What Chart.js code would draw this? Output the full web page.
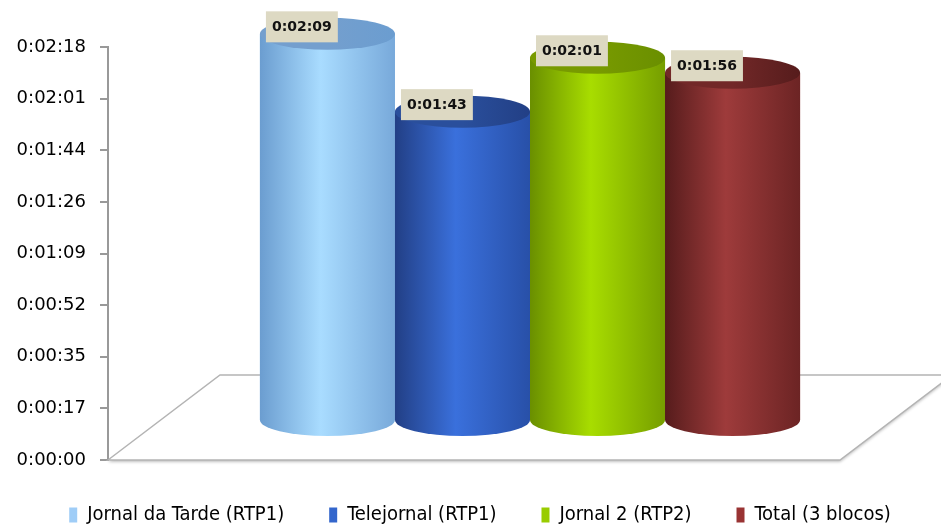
<!DOCTYPE html>
<html>
<head>
<meta charset="utf-8">
<script src="https://cdn.jsdelivr.net/npm/chart.js@4.4.1/dist/chart.umd.min.js"></script>
<style>
  html, body { margin: 0; padding: 0; background: #fff; overflow: hidden; }
  #wrap { width: 941px; height: 527px; overflow: hidden; }
</style>
</head>
<body>
<div id="wrap"><canvas id="chart" width="952" height="527"></canvas></div>
<script>
// duração média por bloco (segundos)
const SERIES = ["Jornal da Tarde (RTP1)", "Telejornal (RTP1)", "Jornal 2 (RTP2)", "Total (3 blocos)"];
const VALUES = [129, 103, 121, 116];
const Y_TICKS = [0, 17.25, 34.5, 51.75, 69, 86.25, 103.5, 120.75, 138];

const LEGEND_COLORS = ["#9fcdf7", "#3366cc", "#99cc00", "#993333"];
// [esquerda, centro, direita, topo]
const CYL_SHADES = [
  ["#6b9dd0", "#a9dcff", "#78a9da", "#749fce"],
  ["#223f85", "#3a70dc", "#2850a8", "#2a4f9c"],
  ["#6a8f00", "#a8dd00", "#769e00", "#789a00"],
  ["#561c1c", "#9e3b3b", "#6c2424", "#722828"],
];

function fmtTime(v) {
  const s = Math.round(v);
  const m = Math.floor(s / 60);
  const r = s % 60;
  return "0:" + String(m).padStart(2, "0") + ":" + String(r).padStart(2, "0");
}

// legenda com altura fixa, para a área do gráfico ir até y=460
const legendFit = {
  id: "legendFit",
  beforeInit(chart) {
    const lg = chart.legend;
    const orig = lg.fit;
    lg.fit = function () {
      orig.call(this);
      this.height = 67;
    };
  },
};

const floorPlugin = {
  id: "floor",
  beforeDatasetsDraw(chart) {
    const { ctx, chartArea } = chart;
    const y0 = chart.scales.y.getPixelForValue(0);
    const x0 = chartArea.left;
    const x1 = x0 + 732;
    const dx = 112, dy = 85;
    ctx.save();
    ctx.beginPath();
    ctx.moveTo(x0, y0);
    ctx.lineTo(x0 + dx, y0 - dy);
    ctx.lineTo(x1 + dx, y0 - dy);
    ctx.lineTo(x1, y0);
    ctx.closePath();
    ctx.shadowColor = "rgba(0,0,0,0.25)";
    ctx.shadowBlur = 3;
    ctx.shadowOffsetY = 2;
    ctx.fillStyle = "#ffffff";
    ctx.fill();
    ctx.shadowColor = "transparent";
    ctx.strokeStyle = "#b4b4b4";
    ctx.lineWidth = 1.5;
    ctx.stroke();
    ctx.restore();
  },
};

const cylinderPlugin = {
  id: "cylinders",
  afterDatasetsDraw(chart) {
    const { ctx } = chart;
    const ry = 16;
    chart.data.datasets.forEach((ds, i) => {
      const meta = chart.getDatasetMeta(i);
      meta.data.forEach((el) => {
        const { x, y, base, width } = el.getProps(["x", "y", "base", "width"], true);
        const rx = width / 2;
        const l = x - rx, r = x + rx;
        const sh = CYL_SHADES[i];
        ctx.save();
        const g = ctx.createLinearGradient(l, 0, r, 0);
        g.addColorStop(0, sh[0]);
        g.addColorStop(0.45, sh[1]);
        g.addColorStop(1, sh[2]);
        ctx.beginPath();
        ctx.moveTo(l, y);
        ctx.lineTo(l, base);
        ctx.ellipse(x, base, rx, ry, 0, Math.PI, 0, true);
        ctx.lineTo(r, y);
        ctx.closePath();
        ctx.fillStyle = g;
        ctx.fill();
        const gt = ctx.createLinearGradient(l, 0, r, 0);
        gt.addColorStop(0, sh[3]);
        gt.addColorStop(0.5, sh[3]);
        gt.addColorStop(1, sh[0]);
        ctx.beginPath();
        ctx.ellipse(x, y, rx, ry, 0, 0, Math.PI * 2);
        ctx.fillStyle = gt;
        ctx.fill();
        ctx.restore();
      });
    });
    // rótulos de dados
    chart.data.datasets.forEach((ds, i) => {
      const el = chart.getDatasetMeta(i).data[0];
      const { x, y, width } = el.getProps(["x", "y", "width"], true);
      const txt = fmtTime(ds.data[0]);
      ctx.save();
      ctx.font = "bold 14px 'DejaVu Sans'";
      const tw = ctx.measureText(txt).width;
      const bx = x - width / 2 + 6;
      const bh = 31;
      const by = y - 7 - bh / 2;
      ctx.fillStyle = "#ddd9c3";
      ctx.fillRect(bx, by, tw + 12, bh);
      ctx.fillStyle = "#111";
      ctx.textBaseline = "middle";
      ctx.fillText(txt, bx + 6, by + bh / 2 + 1);
      ctx.restore();
    });
  },
};

new Chart(document.getElementById("chart"), {
  type: "bar",
  data: {
    labels: [""],
    datasets: SERIES.map((name, i) => ({
      label: name,
      data: [VALUES[i]],
      backgroundColor: LEGEND_COLORS[i],
      borderWidth: 0,
      yAxisID: "y2",
      clip: false,
    })),
  },
  options: {
    responsive: false,
    animation: false,
    categoryPercentage: 0.64,
    barPercentage: 1.0,
    layout: { padding: { top: 47, left: 8, right: 0, bottom: 0 } },
    plugins: {
      legend: {
        position: "bottom",
        labels: {
          boxWidth: 8,
          boxHeight: 15,
          padding: 45,
          color: "#000",
          font: { family: "'Liberation Sans Narrow', 'DejaVu Sans Condensed', sans-serif", size: 20 },
        },
      },
      tooltip: { enabled: false },
    },
    scales: {
      x: { display: false },
      y: {
        position: "left",
        min: 0,
        max: 138,
        afterFit: (s) => { s.width = 100; },
        afterBuildTicks: (s) => { s.ticks = Y_TICKS.map((v) => ({ value: v })); },
        grid: { drawOnChartArea: false, tickLength: 8, color: "#999", lineWidth: 2 },
        border: { display: true, color: "#999", width: 2 },
        ticks: {
          padding: 14,
          color: "#000",
          font: { family: "'DejaVu Sans'", size: 18 },
          callback: (v) => fmtTime(v),
        },
      },
      y2: { display: false, min: -13.4, max: 124.6 },
    },
  },
  plugins: [legendFit, floorPlugin, cylinderPlugin],
});
</script>
</body>
</html>
